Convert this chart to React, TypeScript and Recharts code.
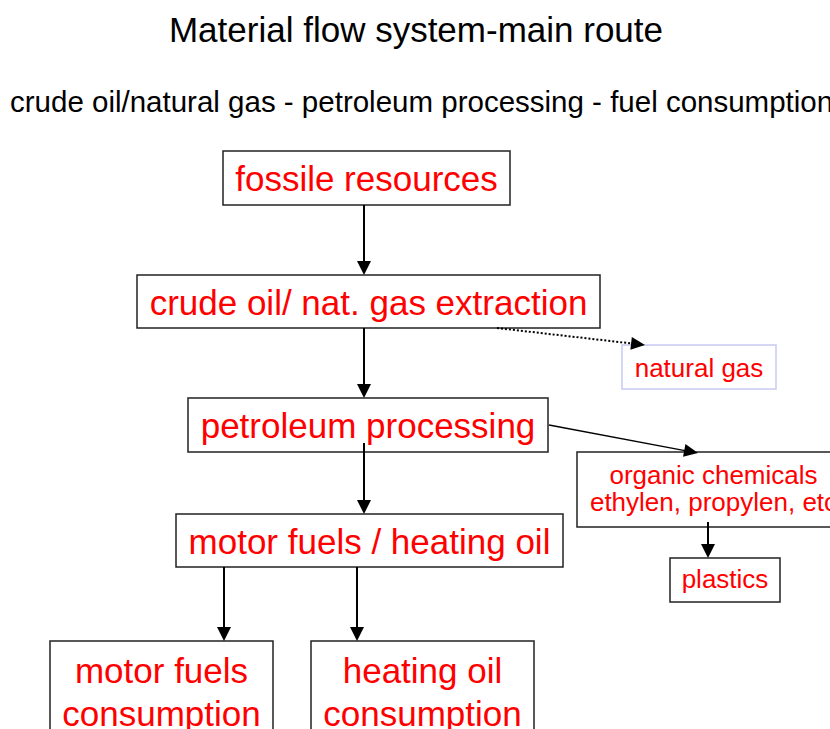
import React from 'react';
import { ScatterChart, Scatter, XAxis, YAxis, ReferenceArea, ReferenceLine } from 'recharts';

// diagram units: 1 unit = 1px of the 830 x 729 canvas, y grows downwards
const nodeLabels: string[][] = [
  ['fossile resources'],
  ['crude oil/ nat. gas extraction'],
  ['natural gas'],
  ['petroleum processing'],
  ['organic chemicals', 'ethylen, propylen, etc'],
  ['plastics'],
  ['motor fuels / heating oil'],
  ['motor fuels', 'consumption'],
  ['heating oil', 'consumption'],
];
const nodeLeft = [223, 137, 622, 188, 577, 670, 176, 50, 311];
const nodeRight = [510, 600, 776, 548, 850, 780, 563, 273, 534];
const nodeTop = [151, 275, 345, 398, 452, 558, 514, 641, 641];
const nodeBottom = [205, 328, 389, 452, 527, 602, 567, 741, 741];
const nodeKind = ['main', 'main', 'side', 'main', 'small', 'small', 'main', 'main', 'main'];

const edgeFromX = [364, 364, 497, 549, 364, 708, 224, 357];
const edgeFromY = [205, 328, 328, 425, 443, 522, 567, 567];
const edgeToX = [364, 364, 645, 698, 364, 708, 224, 357];
const edgeToY = [275, 398, 345, 453, 514, 558, 641, 641];
const edgeKind = ['solid', 'solid', 'dotted', 'thin', 'solid', 'solid', 'solid', 'solid'];

const title = 'Material flow system-main route';
const subtitle = 'crude oil/natural gas - petroleum processing - fuel consumption';

const W = 830;
const H = 729;
const FONT = '"Liberation Sans", Arial, Helvetica, sans-serif';

const kindStyle: Record<string, { size: number; lineGap: number; border: string; shift: number }> = {
  main: { size: 35, lineGap: 43, border: '#222', shift: 0.38 },
  small: { size: 26, lineGap: 27, border: '#222', shift: 0.32 },
  side: { size: 26, lineGap: 27, border: '#c8c8f2', shift: 0.38 },
};

// anchor points so the chart has something to lay out
const centers = nodeLabels.map((_, i) => ({
  x: (nodeLeft[i] + nodeRight[i]) / 2,
  y: (nodeTop[i] + nodeBottom[i]) / 2,
}));

function Box(props: any, lines: string[], kind: string) {
  const { x, y, width, height } = props;
  const st = kindStyle[kind];
  const cx = x + width / 2;
  const cy = y + height / 2;
  const first = cy - ((lines.length - 1) * st.lineGap) / 2 + st.size * st.shift;
  return (
    <g>
      <rect x={x} y={y} width={width} height={height} fill="#fff" stroke={st.border} strokeWidth={1.5} />
      {lines.map((t, i) => (
        <text
          key={i}
          x={cx}
          y={first + i * st.lineGap}
          textAnchor="middle"
          fill="#ff0000"
          fontSize={st.size}
          fontFamily={FONT}
        >
          {t}
        </text>
      ))}
    </g>
  );
}

function Arrow(props: any, kind: string) {
  const { x1, y1, x2, y2 } = props;
  const dx = x2 - x1;
  const dy = y2 - y1;
  const len = Math.sqrt(dx * dx + dy * dy) || 1;
  const ux = dx / len;
  const uy = dy / len;
  const head = 14;
  const half = kind === 'solid' ? 7 : 6.5;
  const bx = x2 - ux * head;
  const by = y2 - uy * head;
  const pts = `${x2},${y2} ${bx - uy * half},${by + ux * half} ${bx + uy * half},${by - ux * half}`;
  return (
    <g>
      <line
        x1={x1}
        y1={y1}
        x2={bx + ux * 2}
        y2={by + uy * 2}
        stroke="#000"
        strokeWidth={kind === 'thin' ? 1.3 : 2}
        strokeDasharray={kind === 'dotted' ? '2 2' : undefined}
      />
      <polygon points={pts} fill="#000" />
    </g>
  );
}

export default function App() {
  return (
    <div style={{ position: 'absolute', left: 0, top: 0, width: W, height: H, overflow: 'hidden', background: '#fff' }}>
      <ScatterChart width={W} height={H} margin={{ top: 0, right: 0, bottom: 0, left: 0 }}>
        <XAxis type="number" dataKey="x" domain={[0, W]} allowDataOverflow hide />
        <YAxis type="number" dataKey="y" domain={[0, H]} allowDataOverflow reversed hide />
        <Scatter data={centers} isAnimationActive={false} shape={() => <g />} />
        {edgeKind.map((k, i) => (
          <ReferenceLine
            key={`e${i}`}
            segment={[
              { x: edgeFromX[i], y: edgeFromY[i] },
              { x: edgeToX[i], y: edgeToY[i] },
            ]}
            ifOverflow="visible"
            shape={(p: any) => Arrow(p, k)}
          />
        ))}
        {nodeLabels.map((lines, i) => (
          <ReferenceArea
            key={`n${i}`}
            x1={nodeLeft[i]}
            x2={nodeRight[i]}
            y1={nodeTop[i]}
            y2={nodeBottom[i]}
            ifOverflow="visible"
            shape={(p: any) => Box(p, lines, nodeKind[i])}
          />
        ))}
      </ScatterChart>
      <svg width={W} height={H} style={{ position: 'absolute', left: 0, top: 0, pointerEvents: 'none' }}>
        <text x={416} y={42} textAnchor="middle" fontSize={35} fontFamily={FONT} fill="#000">
          {title}
        </text>
        <text x={10} y={112} fontSize={29.5} fontFamily={FONT} fill="#000">
          {subtitle}
        </text>
      </svg>
    </div>
  );
}
